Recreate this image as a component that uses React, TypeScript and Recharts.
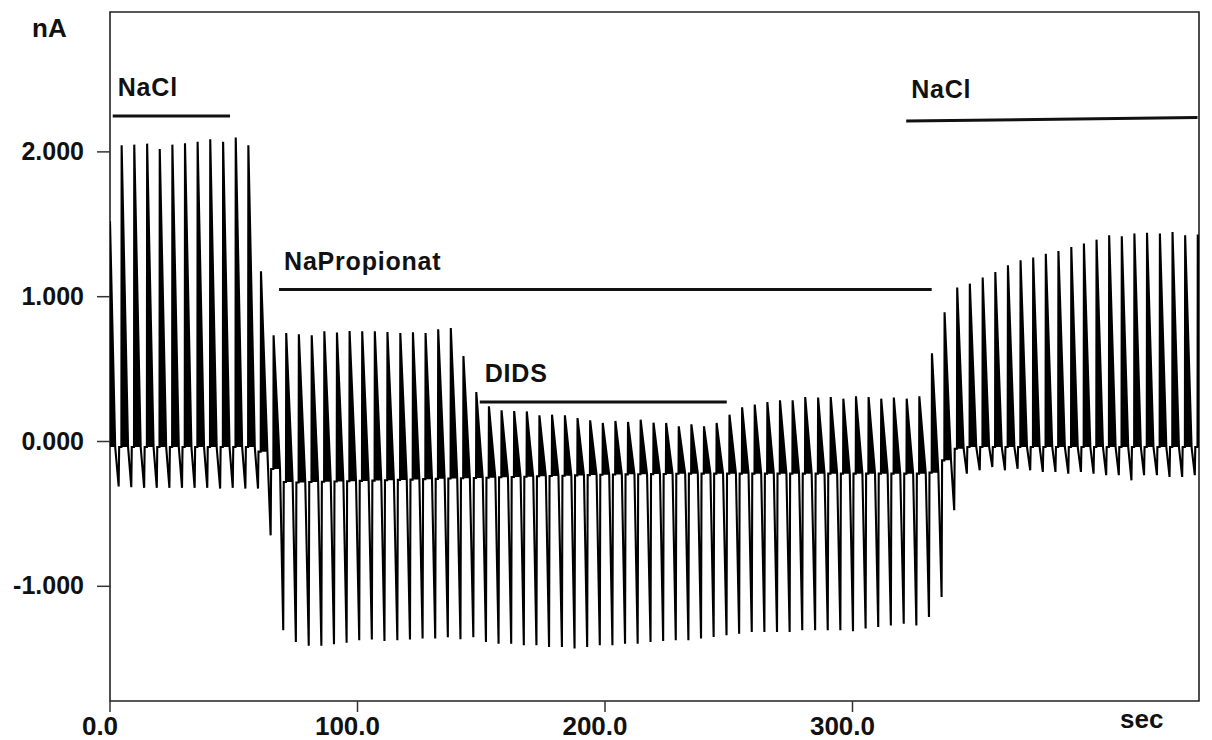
import {
  ComposedChart,
  Line,
  Area,
  XAxis,
  YAxis,
  ReferenceLine,
  ReferenceArea,
  Label,
} from "recharts";

// stimulus times (sec) of each spike
const spikeTimes = [
  4.7, 9.8, 15.0, 20.1, 25.2, 30.3, 35.4, 40.5, 45.7, 50.8,
  55.9, 61.0, 66.1, 71.2, 76.3, 81.5, 86.6, 91.7, 96.8, 101.9,
  107.0, 112.1, 117.3, 122.4, 127.5, 132.6, 137.7, 142.8, 148.0, 153.1,
  158.2, 163.3, 168.4, 173.5, 178.6, 183.8, 188.9, 194.0, 199.1, 204.2,
  209.3, 214.4, 219.6, 224.7, 229.8, 234.9, 240.0, 245.1, 250.3, 255.4,
  260.5, 265.6, 270.7, 275.8, 280.9, 286.1, 291.2, 296.3, 301.4, 306.5,
  311.6, 316.7, 321.9, 327.0, 332.1, 337.2, 342.3, 347.4, 352.6, 357.7,
  362.8, 367.9, 373.0, 378.1, 383.2, 388.4, 393.5, 398.6, 403.7, 408.8,
  413.9, 419.0, 424.2, 429.3, 434.4, 439.5,
];

// peak current of each spike (nA)
const peakValues = [
  2.045, 2.05, 2.057, 2.02, 2.05, 2.06, 2.07, 2.087, 2.07, 2.1,
  2.045, 1.175, 0.733, 0.749, 0.74, 0.733, 0.761, 0.752, 0.763, 0.761,
  0.761, 0.756, 0.749, 0.754, 0.749, 0.775, 0.784, 0.59, 0.342, 0.243,
  0.215, 0.21, 0.208, 0.181, 0.185, 0.181, 0.162, 0.146, 0.128, 0.142,
  0.135, 0.151, 0.13, 0.128, 0.105, 0.119, 0.105, 0.128, 0.185, 0.236,
  0.255, 0.273, 0.285, 0.285, 0.307, 0.303, 0.307, 0.296, 0.312, 0.307,
  0.296, 0.303, 0.296, 0.312, 0.609, 0.892, 1.063, 1.09, 1.132, 1.171,
  1.217, 1.251, 1.27, 1.297, 1.316, 1.343, 1.367, 1.394, 1.424, 1.417,
  1.436, 1.442, 1.436, 1.447, 1.424, 1.429,
];

// trough just before each spike (nA)
const troughValues = [
  -0.31, -0.315, -0.32, -0.32, -0.32, -0.32, -0.32, -0.32, -0.325, -0.32,
  -0.325, -0.325, -0.648, -1.304, -1.385, -1.41, -1.41, -1.4, -1.39, -1.373,
  -1.368, -1.378, -1.373, -1.368, -1.36, -1.36, -1.352, -1.365, -1.352, -1.385,
  -1.396, -1.396, -1.407, -1.407, -1.419, -1.419, -1.43, -1.419, -1.407, -1.407,
  -1.396, -1.396, -1.385, -1.378, -1.373, -1.373, -1.361, -1.35, -1.338, -1.327,
  -1.316, -1.316, -1.316, -1.316, -1.304, -1.304, -1.304, -1.304, -1.31, -1.292,
  -1.281, -1.27, -1.258, -1.27, -1.212, -1.074, -0.475, -0.222, -0.199, -0.176,
  -0.199, -0.188, -0.199, -0.21, -0.21, -0.222, -0.21, -0.222, -0.233, -0.233,
  -0.268, -0.233, -0.233, -0.245, -0.245, -0.233,
];

// holding current level around each spike (nA)
const baseValues = [
  -0.038, -0.038, -0.038, -0.038, -0.038, -0.038, -0.038, -0.038, -0.038, -0.038,
  -0.038, -0.07, -0.19, -0.28, -0.283, -0.28, -0.278, -0.276, -0.274, -0.272,
  -0.27, -0.268, -0.265, -0.263, -0.26, -0.258, -0.256, -0.254, -0.252, -0.25,
  -0.247, -0.245, -0.243, -0.24, -0.238, -0.236, -0.234, -0.232, -0.23, -0.228,
  -0.227, -0.226, -0.225, -0.224, -0.223, -0.222, -0.222, -0.222, -0.222, -0.222,
  -0.222, -0.222, -0.222, -0.222, -0.222, -0.222, -0.222, -0.222, -0.222, -0.222,
  -0.222, -0.222, -0.222, -0.222, -0.215, -0.13, -0.05, -0.038, -0.038, -0.038,
  -0.038, -0.038, -0.038, -0.038, -0.038, -0.038, -0.038, -0.038, -0.038, -0.038,
  -0.038, -0.038, -0.038, -0.038, -0.038, -0.038,
];

const startValue = 1.52; // tail of the spike before t = 0

const xTicks = [0, 100, 200, 300];
const yTicks = [-1, 0, 1, 2];

const annotations = [
  { label: "NaCl", x1: 1.1, x2: 48.5, y1: 2.248, y2: 2.248 },
  { label: "NaPropionat", x1: 68.3, x2: 332, y1: 1.049, y2: 1.049 },
  { label: "DIDS", x1: 149.4, x2: 249.2, y1: 0.273, y2: 0.273 },
  { label: "NaCl", x1: 321.7, x2: 439.4, y1: 2.213, y2: 2.237 },
];

const X_MAX = 440;
const Y_MIN = -1.792;
const Y_MAX = 2.966;
const FONT = "'Liberation Sans', Arial, sans-serif";

// one sweep: ramp down to trough, snap back, step up to peak, decay back
function buildTrace() {
  const pts: { t: number; v: number; band: [number, number] }[] = [];
  const push = (t: number, v: number, b: number) =>
    pts.push({ t, v, band: [b, Math.max(v, b)] });

  push(0, startValue, baseValues[0]);
  push(spikeTimes[0] - 2.6, baseValues[0], baseValues[0]);
  spikeTimes.forEach((t, i) => {
    const b = baseValues[i];
    push(t - 1.2, troughValues[i], b);
    push(t - 1.0, b, b);
    push(t - 0.1, b, b);
    push(t, peakValues[i], b);
    push(t + 2.6, b, b);
  });
  return pts;
}

const trace = buildTrace();

const XTick = ({ x, y, payload }: any) => (
  <text x={x - 10} y={y} dy={21} textAnchor="middle" fontSize={26} fontWeight="bold" fontFamily={FONT} fill="#111">
    {Number(payload.value).toFixed(1)}
  </text>
);

const YTick = ({ x, y, payload }: any) => (
  <text x={x} y={y} dy={8} textAnchor="end" fontSize={25} fontWeight="bold" fontFamily={FONT} fill="#111">
    {Number(payload.value).toFixed(3)}
  </text>
);

export default function App() {
  return (
    <div style={{ position: "absolute", left: 0, top: 0, width: 1212, height: 740, background: "#fff" }}>
      <ComposedChart
        width={1212}
        height={740}
        data={trace}
        margin={{ top: 12, right: 13, bottom: 0, left: 0 }}
      >
        <XAxis
          dataKey="t"
          type="number"
          domain={[0, X_MAX]}
          ticks={xTicks}
          allowDataOverflow
          height={39}
          tickSize={11}
          tickMargin={2}
          axisLine={false}
          tickLine={{ stroke: "#333", strokeWidth: 1.5 }}
          tick={<XTick />}
        >
          <Label
            content={() => (
              <text x={1120} y={728} fontSize={26} fontWeight="bold" fontFamily={FONT} fill="#111">
                sec
              </text>
            )}
          />
        </XAxis>
        <YAxis
          type="number"
          domain={[Y_MIN, Y_MAX]}
          ticks={yTicks}
          allowDataOverflow
          width={110}
          tickSize={13}
          tickMargin={13}
          axisLine={false}
          tickLine={{ stroke: "#333", strokeWidth: 1.5 }}
          tick={<YTick />}
        >
          <Label
            content={() => (
              <text x={32} y={37} fontSize={26} fontWeight="bold" fontFamily={FONT} fill="#111">
                nA
              </text>
            )}
          />
        </YAxis>
        <ReferenceArea
          x1={0}
          x2={X_MAX}
          y1={Y_MIN}
          y2={Y_MAX}
          fill="none"
          stroke="#222"
          strokeWidth={1.6}
          fillOpacity={0}
        />
        {annotations.map((a, i) => (
          <ReferenceLine
            key={i}
            segment={[
              { x: a.x1, y: a.y1 },
              { x: a.x2, y: a.y2 },
            ]}
            stroke="#111"
            strokeWidth={3}
            label={{
              content: (p: any) => (
                <text
                  x={p.viewBox.x + 5}
                  y={p.viewBox.y - 20}
                  fontSize={25}
                  fontWeight="bold"
                  letterSpacing={0.8}
                  fontFamily={FONT}
                  fill="#111"
                >
                  {a.label}
                </text>
              ),
            }}
          />
        ))}
        <Area
          dataKey="band"
          type="linear"
          stroke="none"
          fill="#000"
          fillOpacity={1}
          isAnimationActive={false}
          dot={false}
          activeDot={false}
        />
        <Line
          dataKey="v"
          type="linear"
          stroke="#000"
          strokeWidth={2.1}
          dot={false}
          activeDot={false}
          isAnimationActive={false}
        />
      </ComposedChart>
    </div>
  );
}
